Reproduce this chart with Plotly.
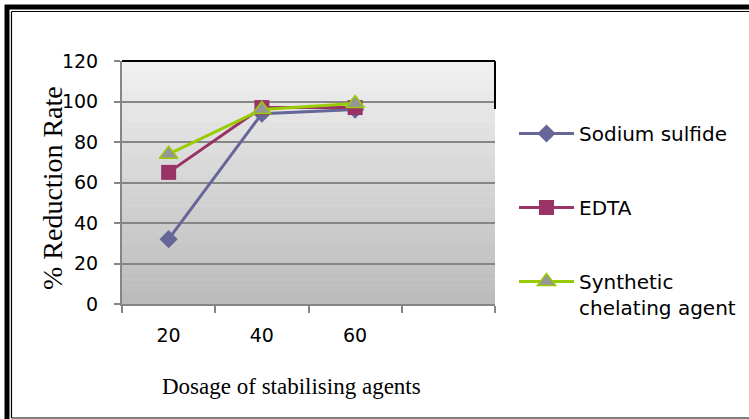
import plotly.graph_objects as go

categories = ["20", "40", "60"]
all_categories = ["20", "40", "60", " "]
sodium_sulfide = [32, 94, 96]
edta = [65, 97, 97]
synthetic = [74, 96, 99]
y_ticks = [0, 20, 40, 60, 80, 100, 120]

W, H = 749, 419
L, R, T, B = 122, 495, 61, 304  # plot area in pixels


def px(x):
    return (x - L) / (R - L)


def py(y):
    return (B - y) / (B - T)


fig = go.Figure()

fig.add_trace(go.Scatter(
    x=categories, y=sodium_sulfide, name="Sodium sulfide", mode="lines+markers",
    line=dict(color="#666699", width=3),
    marker=dict(symbol="diamond", size=14, color="#666699"),
    legendgroup="a"))
fig.add_trace(go.Scatter(
    x=categories, y=edta, name="EDTA", mode="lines+markers",
    line=dict(color="#993366", width=3),
    marker=dict(symbol="square", size=15, color="#993366"),
    legendgroup="b"))
fig.add_trace(go.Scatter(
    x=categories, y=synthetic, name="Synthetic<br>chelating agent", mode="lines+markers",
    line=dict(color="#99cc00", width=3),
    marker=dict(symbol="triangle-up", size=16, color="#969696",
                line=dict(color="#99cc00", width=1.5)),
    legendgroup="c"))

shapes = []
# gradient plot background
n = 40
top_c = (0xF0, 0xF0, 0xF0)
bot_c = (0xBB, 0xBB, 0xBB)
for i in range(n):
    t = i / (n - 1)
    c = tuple(round(bot_c[k] + (top_c[k] - bot_c[k]) * t) for k in range(3))
    shapes.append(dict(type="rect", xref="x domain", yref="y domain",
                       x0=0, x1=1, y0=i / n, y1=(i + 1) / n + 0.002,
                       fillcolor="rgb(%d,%d,%d)" % c, line=dict(width=0), layer="below"))
# plot area top border and short right border
shapes.append(dict(type="line", xref="paper", yref="paper", x0=0, x1=1, y0=1, y1=1,
                   line=dict(color="black", width=2)))
shapes.append(dict(type="line", xref="paper", yref="paper", x0=1, x1=1, y0=1, y1=py(109),
                   line=dict(color="black", width=2)))
# outer frame
shapes.append(dict(type="line", xref="paper", yref="paper", x0=px(7), x1=px(7), y0=py(5), y1=py(419),
                   line=dict(color="black", width=5)))
shapes.append(dict(type="line", xref="paper", yref="paper", x0=px(5), x1=px(749), y0=py(7), y1=py(7),
                   line=dict(color="black", width=5)))
shapes.append(dict(type="line", xref="paper", yref="paper", x0=px(11.5), x1=px(11.5), y0=py(11.5), y1=py(418),
                   line=dict(color="black", width=1.2)))
shapes.append(dict(type="line", xref="paper", yref="paper", x0=px(11.5), x1=px(749), y0=py(11.5), y1=py(11.5),
                   line=dict(color="black", width=1.2)))
shapes.append(dict(type="line", xref="paper", yref="paper", x0=px(11.5), x1=px(749), y0=py(418), y1=py(418),
                   line=dict(color="black", width=1.2)))

tick_font = dict(family="DejaVu Sans", size=19, color="black")

fig.update_layout(
    width=W, height=H,
    margin=dict(l=L, r=W - R, t=T, b=H - B, autoexpand=False),
    paper_bgcolor="white", plot_bgcolor="rgba(0,0,0,0)",
    shapes=shapes,
    showlegend=True,
    legend=dict(x=px(514), y=py(114), xanchor="left", yanchor="top",
                font=dict(family="DejaVu Sans", size=20, color="black"),
                tracegroupgap=45, valign="top", itemwidth=55,
                bgcolor="rgba(0,0,0,0)"),
    xaxis=dict(type="category", categoryarray=all_categories, categoryorder="array",
               range=[-0.5, 3.5], tickson="boundaries", ticks="outside", ticklen=7,
               tickwidth=2, tickcolor="#868686", showline=True, linecolor="#868686",
               linewidth=2, showgrid=False, zeroline=False, ticklabelstandoff=13,
               tickfont=tick_font),
    yaxis=dict(range=[0, 120], tickvals=y_ticks, ticks="outside", ticklen=6,
               tickwidth=2, tickcolor="#868686", showline=True, linecolor="#868686",
               linewidth=2, showgrid=True, gridcolor="#868686", gridwidth=2,
               zeroline=False, ticklabelstandoff=12,
               tickfont=tick_font),
    annotations=[
        dict(text="% Reduction Rate", xref="paper", yref="paper", x=px(52), y=py(188),
             showarrow=False, textangle=-90, xanchor="center", yanchor="middle",
             font=dict(family="Liberation Serif", size=28, color="black")),
        dict(text="Dosage of stabilising agents", xref="paper", yref="paper",
             x=px(291), y=py(386), showarrow=False, xanchor="center", yanchor="middle",
             font=dict(family="Liberation Serif", size=23, color="black")),
    ],
)

fig.write_html("out.html")
